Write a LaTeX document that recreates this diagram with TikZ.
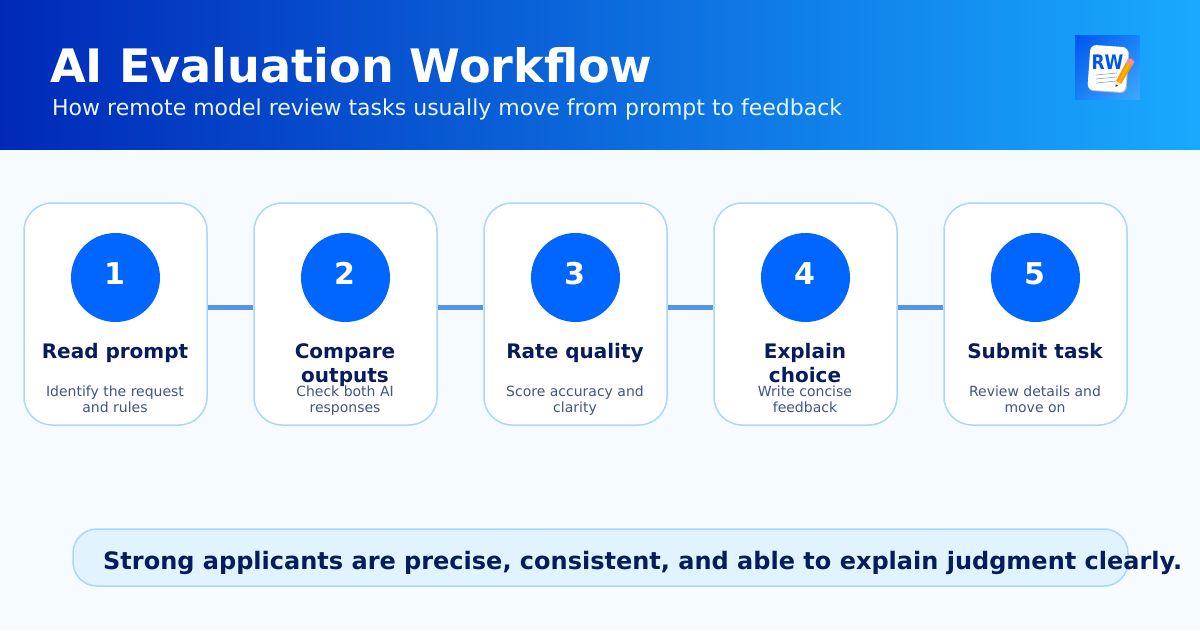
\documentclass[tikz,border=0pt]{standalone}
\usepackage{fontspec}
\setmainfont{DejaVu Sans}
\usetikzlibrary{shadings}
\definecolor{navy}{HTML}{061C5C}
\definecolor{slate}{HTML}{3F5585}
\definecolor{bluemid}{HTML}{0066FF}
\definecolor{edgeblue}{HTML}{AAD6FF}
\definecolor{pagebg}{HTML}{F6FBFF}
\definecolor{pillbg}{HTML}{E1F3FF}
\definecolor{linkblue}{HTML}{5595E8}
\definecolor{headleft}{HTML}{0029B9}
\definecolor{headright}{HTML}{18A9FF}
\definecolor{logotl}{HTML}{0055EE}
\definecolor{logobr}{HTML}{3FA9FF}
\definecolor{logomid}{HTML}{1A80F8}
\tikzset{
 card/.style={draw=edgeblue,line width=1.5pt,fill=white,rounded corners=28pt,minimum width=183pt,minimum height=222pt,inner sep=0pt},
 badge/.style={circle,fill=bluemid,minimum size=89pt,inner sep=0pt},
 numtext/.style={text=white,font=\fontsize{30}{30}\selectfont\bfseries,anchor=base,inner sep=0pt},
 cardtitle/.style={text=navy,font=\fontsize{20}{24}\selectfont\bfseries,align=center,anchor=base,inner sep=0pt},
 carddesc/.style={text=slate,font=\fontsize{14}{16}\selectfont,align=center,anchor=base,inner sep=0pt},
 link/.style={draw=linkblue,line width=5pt},
}
\begin{document}
\begin{tikzpicture}[x=1pt,y=-1pt]
\useasboundingbox (0,0) rectangle (1200,630);
\fill[pagebg] (0,0) rectangle (1200,630);
\shade[left color=headleft,right color=headright] (0,0) rectangle (1200,149.5);
\node[anchor=base west,inner sep=0pt,text=white,font=\fontsize{46.1}{46}\selectfont\bfseries] (title) at (50,82.5) {AI Evaluation Workflow};
\node[anchor=base west,inner sep=0pt,text=white!90!headright,font=\fontsize{22}{22}\selectfont] (subtitle) at (52,115) {How remote model review tasks usually move from prompt to feedback};
% logo
\shade[upper left=logotl,lower right=logobr,upper right=logomid,lower left=logomid] (1075,35) rectangle (1139.5,99.5);
\fill[black!25,rounded corners=6pt,rotate around={-4:(1108,68)}] (1089,47) rectangle (1128,92);
\fill[white,rounded corners=6pt,rotate around={-4:(1108,68)}] (1089,46) rectangle (1127,91);
\node[inner sep=0pt,text=logotl,font=\fontsize{20}{20}\selectfont\bfseries] (logotext) at (1107.5,62.5) {\scalebox{0.85}[1]{RW}};
\foreach \y in {75,79,83}
 \draw[edgeblue!60!slate,line width=0.6pt] (1096,\y) -- (1117,\y-2);
\fill[orange!80!yellow] (1116,81) -- (1126,62.5) -- (1132,66) -- (1121,84) -- cycle;
\fill[yellow!40!orange] (1118,82) -- (1128,63.5) -- (1130,64.8) -- (1120,83) -- cycle;
\fill[red!45!white] (1126,62.5) -- (1128,58.5) .. controls (1130,57.5) and (1133,59) .. (1134,62) -- (1132,66) -- cycle;
\fill[orange!25!white] (1116,81) -- (1121,84) -- (1115.5,87) -- cycle;
\fill[black!80] (1115.7,84.5) -- (1118,85.6) -- (1115.5,87) -- cycle;
% cards
\foreach \i/\x/\num/\hy/\head/\desc in {
 1/115.5/1/358/Read prompt/{Identify the request\\and rules},
 2/345.5/2/382/{Compare\\outputs}/{Check both AI\\responses},
 3/575.5/3/358/Rate quality/{Score accuracy and\\clarity},
 4/805.5/4/382/{Explain\\choice}/{Write concise\\feedback},
 5/1035.5/5/358/Submit task/{Review details and\\move on}}
{
 \node[card] (card\i) at (\x,314) {};
 \node[badge] (badge\i) at (\x,277.5) {};
 \node[numtext] (num\i) at (\x-1,284.5) {\num};
 \node[cardtitle] (head\i) at (\x-0.5,\hy) {\head};
 \node[carddesc] (desc\i) at (\x-0.5,412) {\desc};
}
\foreach \a/\b in {1/2,2/3,3/4,4/5}
 \draw[link] ([yshift=7pt]card\a.east) -- ([yshift=7pt]card\b.west);
% takeaway bar
\node[draw=edgeblue,line width=1.5pt,fill=pillbg,rounded corners=24pt,minimum width=1055pt,minimum height=57pt,inner sep=0pt] (bar) at (600.5,557.5) {};
\node[anchor=base west,inner sep=0pt,text=navy,font=\fontsize{24}{24}\selectfont\bfseries] (bartext) at (103,569) {Strong applicants are precise, consistent, and able to explain judgment clearly.};
\end{tikzpicture}
\end{document}
